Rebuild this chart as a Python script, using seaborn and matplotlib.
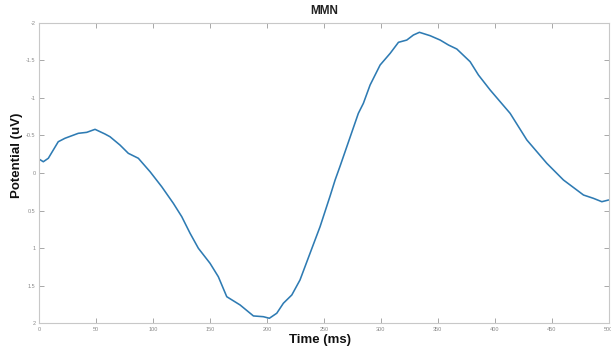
import matplotlib
matplotlib.use("Agg")
import matplotlib.pyplot as plt
import seaborn as sns
import pandas as pd

# Grand-average MMN difference wave
time_ms = [0, 3.8, 8.2, 16.9, 22.8, 34.5, 41.9, 49.2, 57.9, 62.3, 71.1, 78.4,
           87.2, 97.5, 107.7, 117.9, 125.3, 132.6, 139.9, 150.1, 157.4, 164.8,
           176.5, 188.2, 196.9, 202.2, 208.7, 214.5, 221.9, 229.1, 237.9, 246.7,
           255.5, 259.9, 264.3, 280.3, 284.7, 290.6, 299.4, 308.2, 315.5, 322.8,
           328.6, 333.9, 343.3, 352.1, 359.4, 366.7, 378.4, 385.7, 396.0, 413.5,
           428.2, 445.7, 460.3, 477.9, 486.6, 494.0, 500.0]
potential_uv = [-0.186, -0.150, -0.196, -0.416, -0.462, -0.528, -0.541, -0.581,
                -0.519, -0.483, -0.372, -0.262, -0.196, -0.017, 0.182, 0.403,
                0.581, 0.802, 1.002, 1.201, 1.380, 1.646, 1.756, 1.902, 1.912,
                1.933, 1.866, 1.733, 1.623, 1.423, 1.068, 0.714, 0.306, 0.093,
                -0.093, -0.794, -0.927, -1.171, -1.437, -1.592, -1.739, -1.769,
                -1.836, -1.872, -1.827, -1.769, -1.703, -1.650, -1.481, -1.304,
                -1.104, -0.794, -0.439, -0.129, 0.093, 0.293, 0.337, 0.382, 0.359]

x_ticks = [0, 50, 100, 150, 200, 250, 300, 350, 400, 450, 500]
y_ticks = [-2, -1.5, -1, -0.5, 0, 0.5, 1, 1.5, 2]

df = pd.DataFrame({"Time (ms)": time_ms, "Potential (uV)": potential_uv})

sns.set_theme(style="white")
plt.rcParams["font.family"] = ["Liberation Sans", "DejaVu Sans"]

fig = plt.figure(figsize=(6.11, 3.46), dpi=100)
ax = fig.add_axes([0.0638, 0.0656, 0.9324, 0.8688])

sns.lineplot(data=df, x="Time (ms)", y="Potential (uV)", ax=ax,
             color="#2e7bb3", linewidth=1.15, sort=False)

ax.set_xlim(0, 500)
ax.set_ylim(2, -2)  # negative up, as is usual for ERPs
ax.set_xticks(x_ticks)
ax.set_yticks(y_ticks)
ax.set_xticklabels([str(t) for t in x_ticks])
ax.set_yticklabels([f"{t:g}" for t in y_ticks])

for side in ["left", "right", "top", "bottom"]:
    ax.spines[side].set_visible(True)
    ax.spines[side].set_color("#c8c8c8")
    ax.spines[side].set_linewidth(0.8)

ax.tick_params(axis="both", direction="in", length=3.5, width=0.6,
               color="#9a9a9a", labelsize=4, labelcolor="#8a8a8a",
               top=True, right=True, bottom=True, left=True, pad=2.5)

ax.set_xlabel("Time (ms)", fontsize=9.5, fontweight="bold", color="#111111")
ax.set_ylabel("Potential (uV)", fontsize=9.5, fontweight="bold", color="#111111")
ax.xaxis.set_label_coords(0.494, -0.056)
ax.yaxis.set_label_coords(-0.038, 0.56)
ax.xaxis.label.set_verticalalignment("center")
ax.yaxis.label.set_verticalalignment("center")
ax.set_title("MMN", fontsize=8.5, fontweight="bold", pad=6, color="#222222")

fig.savefig("out.png", dpi=100)
